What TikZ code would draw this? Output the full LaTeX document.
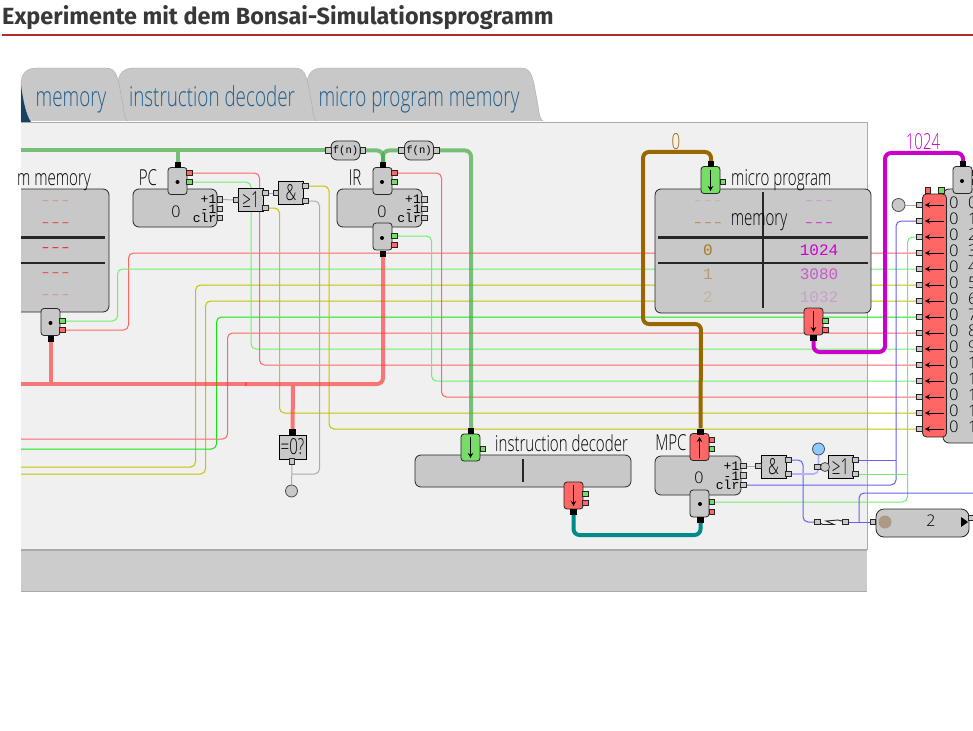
\documentclass[tikz,border=0pt]{standalone}
\usepackage{fontspec}
\usetikzlibrary{backgrounds,arrows.meta}
\setmainfont{Open Sans}
\newfontfamily\labelfont[FakeStretch=0.685]{Open Sans Light}
\newfontfamily\valfont{Open Sans Light}
\newfontfamily\titlefont{Fira Sans}
\newfontfamily\monofont{Liberation Mono}
\newfontfamily\dashfont[LetterSpace=17]{Liberation Mono}
\newcommand{\labtext}{\fontsize{22}{22}\selectfont\labelfont}
\newcommand{\valtext}{\fontsize{16}{16}\selectfont\valfont}
\newcommand{\tabtext}{\fontsize{27.5}{27.5}\selectfont\labelfont}
\newcommand{\smallmono}{\fontsize{13}{13}\selectfont\monofont}
\newcommand{\rowmono}{\fontsize{16}{16}\selectfont\monofont}
\newcommand{\tabshape}[2]{(#1,121) -- (#1,85) .. controls (#1,74) and (#1+5,68) .. (#1+16,68) -- (#2-22,68) .. controls (#2-10,68) and (#2-10,80) .. (#2-5,105) .. controls (#2-4,115) and (#2-2,121) .. (#2,121)}
\definecolor{bodygray}{HTML}{C8C8C8}
\definecolor{panelgray}{HTML}{F0F0F0}
\definecolor{edgegray}{HTML}{AAAAAA}
\definecolor{tabblue}{HTML}{1F5F8F}
\definecolor{titlered}{HTML}{B22A2A}
\definecolor{busgreen}{HTML}{44AA44}
\definecolor{busred}{HTML}{FF3636}
\definecolor{busbrown}{HTML}{9A6600}
\definecolor{buspurple}{HTML}{CC00CC}
\definecolor{busteal}{HTML}{008B8B}
\definecolor{wred}{HTML}{FF6666}
\definecolor{wgreen}{HTML}{6CF06C}
\definecolor{wlime}{HTML}{11E811}
\definecolor{wyellow}{HTML}{C4C400}
\definecolor{wgray}{HTML}{ABABAB}
\definecolor{wblue}{HTML}{6262F0}
\definecolor{portgreen}{HTML}{77DD66}
\definecolor{portred}{HTML}{FF6666}
\definecolor{rowbrown}{HTML}{AA7722}
\tikzset{
  body/.style={draw=black!85,fill=bodygray,rounded corners=6,line width=.8,inner sep=0},
  port/.style={draw=black!85,fill=bodygray,rounded corners=3,line width=.8,minimum width=19,minimum height=27,inner sep=0},
  gate/.style={draw=black,fill=bodygray,line width=.9,minimum width=25,minimum height=23,inner sep=0,font=\labtext},
  conn/.style={draw=black!85,fill=bodygray,line width=.8,minimum width=5.5,minimum height=5.5,inner sep=0},
  connr/.style={conn,fill=portred},
  conng/.style={conn,fill=portgreen},
  blk/.style={fill=black,minimum width=6.5,minimum height=6,inner sep=0},
  dotn/.style={circle,fill=black,minimum size=4,inner sep=0},
  txt/.style={inner sep=0,font=\labtext,text height=15,text depth=5},
  val/.style={txt,font=\valtext},
  tabtxt/.style={inner sep=0,text=tabblue,font=\tabtext,text height=18,text depth=8},
  regtxt/.style={inner sep=0,anchor=east,font=\smallmono},
  rowtxt/.style={inner sep=0,font=\rowmono},
  dashtxt/.style={inner sep=0,font=\fontsize{13}{13}\selectfont\dashfont},
  lamp/.style={circle,draw=black!70,fill=bodygray,line width=.8,minimum size=12,inner sep=0},
  fun/.style={draw=black!85,fill=bodygray,rounded corners=6,line width=.8,minimum width=29,minimum height=19,inner sep=0,font=\fontsize{10.5}{10.5}\selectfont\monofont},
  wire/.style={line width=1,rounded corners=5},
  bus/.style={line width=4,rounded corners=6},
  bar/.style={draw=black!85,line width=2},
}
\begin{document}
\begin{tikzpicture}[x=1pt,y=-1pt,>={Stealth[length=5pt,width=5.5pt]}]
\useasboundingbox (0,0) rectangle (973,730);
% heading
\node[inner sep=0,anchor=base west,text=black!78,font=\fontsize{23.4}{23.4}\selectfont\titlefont\bfseries] (title) at (2,24.5) {Experimente mit dem Bonsai-Simulationsprogramm};
\path[draw=titlered,line width=1.6] (2,35) -- (973,35);
% tabs
\path[draw=edgegray,fill=bodygray] \tabshape{307}{543};
\path[draw=edgegray,fill=bodygray] \tabshape{118}{317};
\path[draw=edgegray,fill=bodygray] \tabshape{21}{128};
\fill[tabblue!70!black] (21,85) .. controls (23,100) and (26,115) .. (31,122) -- (21,122) -- cycle;
\node[tabtxt] (tabmem) at (71,102) {memory};
\node[tabtxt] (tabdec) at (212,102) {instruction decoder};
\node[tabtxt] (tabmic) at (419,102) {micro program memory};
% left memory
\path[draw=black!85,fill=bodygray,rounded corners=6,line width=.8] (21,189) -- (109,189) -- (109,312) -- (21,312);
\path[draw=black!85,line width=3] (21,237) -- (105,237);
\path[draw=black!85,line width=2] (21,263) -- (105,263);
\node[dashtxt,text=red!30!bodygray] (m1) at (55.5,203) {–––};
\node[dashtxt,text=red!75!bodygray] (m2) at (55.5,225) {–––};
\node[dashtxt,text=red] (m3) at (55.5,250) {–––};
\node[dashtxt,text=red!75!bodygray] (m4) at (55.5,275) {–––};
\node[dashtxt,text=red!30!bodygray] (m5) at (55.5,297) {–––};
\node[txt,anchor=east] (memlab) at (91,180) {m memory};
\node[port] (memport) at (50.5,322) {};
\node[dotn] (memdot) at (50.5,323) {};
\node[blk] (memout) at (51,338.5) {};
\node[conng] (memg) at (62.5,321) {};
\node[connr] (memr) at (62.5,330) {};
% PC
\node[body,minimum width=84,minimum height=38] (pcreg) at (175,208) {};
\node[txt] (pclab) at (148,180) {PC};
\node[val] (pcval) at (176,212) {0};
\node[regtxt] (pcinc) at (216.5,199) {+1};
\node[regtxt] (pcdec) at (216.5,209) {-1};
\node[regtxt] (pcclr) at (216.5,218) {clr};
\node[conn] (pcp) at (220,199.5) {};
\node[conn] (pcm) at (220,209) {};
\node[conn] (pcc) at (220,218) {};
\node[port] (pcport) at (177.5,181) {};
\node[dotn] (pcdot) at (177.5,182) {};
\node[blk] (pcin) at (178,165) {};
\node[connr] (pcr) at (189.5,173) {};
\node[conng] (pcg) at (189.5,182) {};
% PC gates
\node[gate] (orpc) at (251,200) {≥1};
\node[conn] (orpcin) at (236,200) {};
\node[conn] (orpca) at (265.5,193) {};
\node[conn] (orpcb) at (265.5,208) {};
\node[gate] (andpc) at (291,193) {\&};
\node[conn] (andpcin) at (276,193) {};
\node[conn] (andpca) at (305.5,186) {};
\node[conn] (andpcb) at (305.5,201) {};
% functions
\node[fun] (f1) at (345.5,150.5) {f(n)};
\node[conn] (f1l) at (328.5,150.5) {};
\node[conn] (f1r) at (363,150.5) {};
\node[fun] (f2) at (419,150.5) {f(n)};
\node[conn] (f2l) at (401.5,150.5) {};
\node[conn] (f2r) at (436.5,150.5) {};
% IR
\node[body,minimum width=85,minimum height=38] (irreg) at (379.5,208) {};
\node[txt] (irlab) at (355,180) {IR};
\node[val] (irval) at (382,212) {0};
\node[regtxt] (irinc) at (421,199) {+1};
\node[regtxt] (irdec) at (421,209) {-1};
\node[regtxt] (irclr) at (421,218) {clr};
\node[conn] (irp) at (424.5,199.5) {};
\node[conn] (irm) at (424.5,209) {};
\node[conn] (irc) at (424.5,218) {};
\node[port] (irtop) at (382.5,181) {};
\node[dotn] (irtopdot) at (382,182) {};
\node[blk] (irin) at (383,165) {};
\node[connr] (irtr) at (394.5,173) {};
\node[conng] (irtg) at (394.5,182) {};
\node[port] (irbot) at (382.5,236.5) {};
\node[dotn] (irbotdot) at (382,238) {};
\node[blk] (irout) at (383,253.5) {};
\node[conng] (irbg) at (394.5,236) {};
\node[connr] (irbr) at (394.5,245) {};
% zero test
\node[gate,minimum width=27,minimum height=24] (zero) at (292.5,447) {=0?};
\node[blk] (zeroin) at (292.5,432) {};
\node[conn] (zeroout) at (292,461.5) {};
\node[lamp] (zerolamp) at (291.5,491) {};
% instruction decoder
\node[body,minimum width=216,minimum height=32] (dec) at (523,471) {};
\path[bar] (523,459) -- (523,482);
\node[txt,anchor=west] (declab) at (495,446) {instruction decoder};
\node[port,fill=portgreen] (decin) at (470.5,447.5) {};
\path[draw,->,line width=.9] (470.5,437) -- (470.5,458);
\node[blk] (decinb) at (471,431) {};
\node[conng] (decing) at (483,449) {};
\node[port,fill=portred] (decout) at (573.5,495.5) {};
\path[draw,->,line width=.9] (573.5,485) -- (573.5,506);
\node[blk] (decoutb) at (573.5,512) {};
\node[conng] (decoutg) at (585.5,494) {};
\node[connr] (decoutr) at (585.5,503) {};
% micro program memory
\node[body,minimum width=216,minimum height=124] (upm) at (763,251) {};
\path[bar] (763,192) -- (763,308);
\path[draw=black!85,line width=3] (658,237) -- (868,237);
\path[bar] (658,263) -- (868,263);
\node[txt] (upmlab) at (759,220) {memory};
\node[txt,anchor=west] (uplab) at (731,180) {micro program};
\node[dashtxt,text=rowbrown!25!bodygray] (a1) at (708,203) {–––};
\node[dashtxt,text=rowbrown!85!bodygray] (a2) at (708,225) {–––};
\node[rowtxt,text=rowbrown] (a3) at (708,250) {0};
\node[rowtxt,text=rowbrown!55!bodygray] (a4) at (708,274) {1};
\node[rowtxt,text=rowbrown!25!bodygray] (a5) at (708,297) {2};
\node[dashtxt,text=buspurple!25!bodygray] (b1) at (819,203) {–––};
\node[dashtxt,text=buspurple!85!bodygray] (b2) at (819,225) {–––};
\node[rowtxt,text=buspurple] (b3) at (819,250) {1024};
\node[rowtxt,text=buspurple!55!bodygray] (b4) at (819,274) {3080};
\node[rowtxt,text=buspurple!20!bodygray] (b5) at (819,297) {1032};
\node[port,fill=portgreen] (upin) at (710.5,180) {};
\path[draw,->,line width=.9] (710.5,170) -- (710.5,191);
\node[blk] (upinb) at (711,164.5) {};
\node[conng] (uping) at (723,182) {};
\node[port,fill=portred] (upout) at (813.5,321.5) {};
\path[draw,->,line width=.9] (813.5,311) -- (813.5,332);
\node[blk] (upoutb) at (813.5,338) {};
\node[conng] (upoutg) at (825.5,321) {};
\node[connr] (upoutr) at (825.5,330) {};
\node[txt,text=busbrown] (uval) at (676,144.5) {0};
\node[txt,text=buspurple] (tval) at (923,144.5) {1024};
% MPC
\node[body,minimum width=86,minimum height=39] (mpc) at (698,475.5) {};
\node[txt] (mpclab) at (671,445) {MPC};
\node[val] (mpcval) at (699,478) {0};
\node[regtxt] (mpcinc) at (739.5,466) {+1};
\node[regtxt] (mpcdec) at (739.5,476) {-1};
\node[regtxt] (mpcclr) at (739.5,485) {clr};
\node[conn] (mpcp) at (743.5,466) {};
\node[conn] (mpcm) at (743.5,475.5) {};
\node[conn] (mpcc) at (743.5,485) {};
\node[port,fill=portred] (mpcup) at (699.5,447) {};
\path[draw,->,line width=.9] (699.5,458) -- (699.5,437);
\node[blk] (mpcin) at (700.5,431.5) {};
\node[connr] (mpcur) at (712,440) {};
\node[conng] (mpcug) at (712,449) {};
\node[port] (mpcbot) at (699.5,503.5) {};
\node[dotn] (mpcdot) at (700,504) {};
\node[blk] (mpcout) at (700.5,520) {};
\node[conng] (mpcbg) at (712,502) {};
\node[connr] (mpcbr) at (712,512) {};
% MPC gates
\node[gate] (andm) at (773.5,466.5) {\&};
\node[conn] (andmin) at (758.5,466) {};
\node[conn] (andma) at (788.5,460) {};
\node[conn] (andmb) at (788.5,474) {};
\node[gate] (orm) at (840.5,466.5) {≥1};
\node[conn] (ormin) at (817.5,467) {};
\node[lamp,minimum size=9] (ormneg) at (825,467) {};
\node[conn] (orma) at (855.5,460) {};
\node[conn] (ormb) at (855.5,474) {};
\node[lamp,fill=blue!45!cyan!45!white,minimum size=12] (blue) at (818.5,449) {};
% switch and counter
\node[conn] (swl) at (817.5,522) {};
\node[conn] (swr) at (845.5,522) {};
\path[draw=black!85,line width=.9] (swl) -- (823,524.5) -- (834,524.5) -- (826,521) -- (838,520) -- (swr);
\node[body,minimum width=93,minimum height=28,rounded corners=8] (cnt) at (922.5,523) {};
\node[val] (cntval) at (931,521) {2};
\node[circle,fill=brown!40!gray!80,minimum size=13,inner sep=0] (cntled) at (885,522) {};
\node[conn] (cntin) at (873,522) {};
\node[conn] (cntout) at (971.5,518) {};
\fill (961,517) -- (968,522) -- (961,527) -- cycle;
% control memory
\node[body,minimum width=60,minimum height=254] (ctl) at (973,316) {};
\node[draw=black!85,fill=portred,rounded corners=4,line width=.8,minimum width=24,minimum height=243,inner sep=0] (ctlred) at (934.5,315.5) {};
\foreach \i/\idx in {0/0,1/1,2/2,3/3,4/4,5/5,6/6,7/7,8/8,9/9,10/1,11/1,12/1,13/1,14/1} {
  \pgfmathsetmacro{\ypin}{205+16*\i}
  \node[conn] (in\i) at (919.5,\ypin) {};
  \path[draw,->,line width=.9] (944,\ypin) -- (925,\ypin);
  \node[val] (cv\i) at (954,\ypin-2) {0};
  \node[val,anchor=west] (ci\i) at (968,\ypin-2) {\idx};
}
\node[connr] (ctlr) at (928,190.5) {};
\node[conng] (ctlg) at (941.5,190.5) {};
\node[lamp,minimum size=13] (ctllamp) at (898.5,205) {};
\node[port] (ctlport) at (962.5,180) {};
\node[dotn] (ctldot) at (962,181) {};
\node[blk] (ctlin) at (963,164.5) {};
\node[connr] (ctlpr) at (975,173) {};
\node[conng] (ctlpg) at (975,182) {};
% free ends
\coordinate (bl) at (21,384);
\coordinate (bs) at (21,150.5);
\coordinate (j0) at (178,152.5);
\coordinate (j1) at (51,382);
\coordinate (j2) at (293,386);
\coordinate (y1) at (21,467);
\coordinate (y2) at (21,474);
\coordinate (l1) at (21,449);
\coordinate (r1) at (21,439);
\coordinate (gj) at (292,474);
\coordinate (bj) at (896,460);
\coordinate (gr) at (907.5,474);
\coordinate (sj) at (859,522);
\coordinate (xb) at (973,493);
\begin{pgfonlayer}{background}
% panel
\path[fill=panelgray] (21,122) rectangle (867,550);
\path[draw=edgegray] (21,122) -- (867,122) -- (867,550);
\path[fill=black!20] (21,551) rectangle (867,591);
\path[draw=edgegray,line width=2] (21,550) -- (867,550);
\path[draw=edgegray] (21,591.5) -- (867,591.5);
% thin wires
\path[draw=wred,wire] (memr) -| (128.5,253) -- (in3);
\path[draw=wgreen,wire] (memg) -| (117.5,269) -- (in4);
\path[draw=wyellow,wire] (y1) -| (195.5,285) -- (in5);
\path[draw=wyellow,wire] (y2) -| (205.5,301) -- (in6);
\path[draw=wlime,wire] (l1) -| (216.5,317) -- (in7);
\path[draw=wred,wire] (r1) -| (227.5,333) -- (in8);
\path[draw=wgreen,wire] (pcg) -| (251,349) -- (in9);
\path[draw=wred,wire] (pcr) -| (259.5,365) -- (in10);
\path[draw=wgreen,wire] (irbg) -| (431.5,381) -- (in11);
\path[draw=wred,wire] (irtr) -| (441.5,397) -- (in12);
\path[draw=wyellow,wire] (orpcb) -| (279.5,413) -- (in13);
\path[draw=wyellow,wire] (andpca) -| (329,429) -- (in14);
\path[draw=wgray,wire] (andpcb) -| (319.5,474) -- (gj);
\path[draw=wgray,wire] (zeroout) -- (zerolamp);
\path[draw=wgray,wire] (pcp) -- (orpcin);
\path[draw=wgray,wire] (orpca) -- (andpcin);
\path[draw=wgray,wire] (mpcp) -- (andmin);
\path[draw=wgray,wire] (ctllamp) -- (in0);
\path[draw=wblue,wire] (mpcc) -| (896,221) -- (in1);
\path[draw=wblue,wire] (orma) -- (bj);
\path[draw=wgreen,wire] (mpcbg) -| (907.5,237) -- (in2);
\path[draw=wgreen,wire] (ormb) -- (gr);
\path[draw=wblue,wire] (andma) -| (803,522) -- (swl);
\path[draw=wblue,wire] (swr) -- (cntin);
\path[draw=wblue,wire] (sj) |- (xb);
\path[draw=blue!30!white,wire,line width=1.6] (andmb) -| (blue);
% buses
\path[draw=busgreen,bus,draw opacity=.7] (bs) -- (f1l);
\path[draw=busgreen,bus,draw opacity=.7] (j0) -- (pcin);
\path[draw=busgreen,bus,draw opacity=.7] (f1r) -| (irin);
\path[draw=busgreen,bus,draw opacity=.7] (f2l) -| (irin);
\path[draw=busgreen,bus,draw opacity=.7] (f2r) -| (decinb);
\path[draw=busred,bus,draw opacity=.65] (bl) -- (247,384);
\path[draw=busred,bus,draw opacity=.65] (245,384) -| (irout);
\path[draw=busred,bus,draw opacity=.65] (j1) -- (memout);
\path[draw=busred,bus,draw opacity=.65] (j2) -- (zeroin);
\path[draw=busbrown,bus] (upinb) |- (643,152) |- (701,324) -- (mpcin);
\path[draw=buspurple,bus] (upoutb) |- (885,352) |- (963,153) -- (ctlin);
\path[draw=busteal,bus] (decoutb) |- (700.5,535) -- (mpcout);
\end{pgfonlayer}
\end{tikzpicture}
\end{document}
